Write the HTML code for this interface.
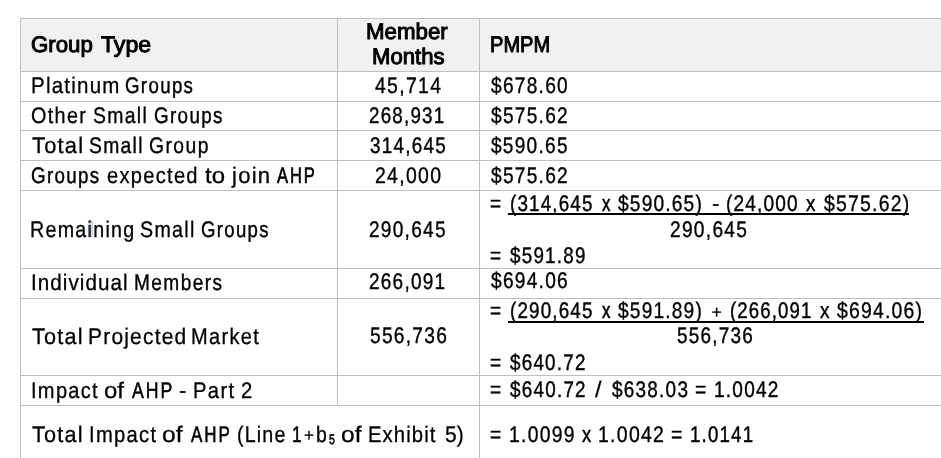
<!DOCTYPE html>
<html><head><meta charset="utf-8"><style>
html,body{margin:0;padding:0;background:#fff;width:941px;height:458px;overflow:hidden;position:relative}
.t{position:absolute;font-family:"Liberation Sans", sans-serif;font-size:22.5px;line-height:1;white-space:pre;color:#000;transform-origin:0 0;text-rendering:geometricPrecision;-webkit-text-stroke:0.3px #000}
.hl{position:absolute;left:20px;right:0;height:1px;background:#bfbfbf}
.vl{position:absolute;width:1px;background:#bfbfbf}
.ul{position:absolute;height:2px;background:#000}
.g{position:absolute;left:0;top:0;width:941px;height:458px;filter:grayscale(1)}
.hd{position:absolute;left:20px;top:18px;right:0;height:53px;background:#f1f1f1}
</style></head><body>
<div class='hd'></div>
<div style='position:absolute;left:88px;top:219.5px;width:4.5px;height:17.5px;background:#cdd9e8'></div>
<div class='g'>
<div class='hl' style='top:18px'></div>
<div class='hl' style='top:71px'></div>
<div class='hl' style='top:101px'></div>
<div class='hl' style='top:130px'></div>
<div class='hl' style='top:160px'></div>
<div class='hl' style='top:190px'></div>
<div class='hl' style='top:268px'></div>
<div class='hl' style='top:298px'></div>
<div class='hl' style='top:375px'></div>
<div class='hl' style='top:405px'></div>
<div class='vl' style='left:20px;top:18px;height:440px'></div>
<div class='vl' style='left:337px;top:18px;height:387px'></div>
<div class='vl' style='left:479px;top:18px;height:440px'></div>
<div class='ul' style='left:508.2px;top:213px;width:400.7px'></div>
<div class='ul' style='left:508.2px;top:321px;width:415.7px'></div>
<div class='t' style='left:31.21px;top:34.00px;-webkit-text-stroke:1.0px #000;transform:scaleX(0.9895)'>Group</div>
<div class='t' style='left:100.80px;top:34.00px;-webkit-text-stroke:1.0px #000;transform:scaleX(1.0280)'>Type</div>
<div class='t' style='left:366.06px;top:21.00px;-webkit-text-stroke:1.0px #000;transform:scaleX(0.9902)'>Member</div>
<div class='t' style='left:371.57px;top:46.00px;-webkit-text-stroke:1.0px #000;transform:scaleX(0.9827)'>Months</div>
<div class='t' style='left:489.88px;top:34.00px;-webkit-text-stroke:1.0px #000;transform:scaleX(0.8923)'>PMPM</div>
<div class='t' style='left:374.98px;top:75.00px;-webkit-text-stroke:0.346px #000;letter-spacing:1.517px;transform:scaleX(0.8637)'>45,714</div>
<div class='t' style='left:491.00px;top:75.00px;-webkit-text-stroke:0.384px #000;letter-spacing:1.495px;transform:scaleX(0.8493)'>$678.60</div>
<div class='t' style='left:369.47px;top:105.00px;-webkit-text-stroke:0.419px #000;letter-spacing:1.477px;transform:scaleX(0.8340)'>268,931</div>
<div class='t' style='left:491.00px;top:105.00px;-webkit-text-stroke:0.383px #000;letter-spacing:1.491px;transform:scaleX(0.8497)'>$575.62</div>
<div class='t' style='left:370.28px;top:135.00px;-webkit-text-stroke:0.401px #000;letter-spacing:1.486px;transform:scaleX(0.8378)'>314,645</div>
<div class='t' style='left:491.00px;top:135.00px;-webkit-text-stroke:0.383px #000;letter-spacing:1.495px;transform:scaleX(0.8471)'>$590.65</div>
<div class='t' style='left:374.95px;top:165.00px;-webkit-text-stroke:0.337px #000;letter-spacing:1.500px;transform:scaleX(0.8640)'>24,000</div>
<div class='t' style='left:491.00px;top:165.00px;-webkit-text-stroke:0.383px #000;letter-spacing:1.491px;transform:scaleX(0.8497)'>$575.62</div>
<div class='t' style='left:369.36px;top:219.00px;-webkit-text-stroke:0.373px #000;letter-spacing:1.481px;transform:scaleX(0.8482)'>290,645</div>
<div class='t' style='left:669.56px;top:219.00px;-webkit-text-stroke:0.361px #000;letter-spacing:1.481px;transform:scaleX(0.8527)'>290,645</div>
<div class='t' style='left:369.37px;top:271.00px;-webkit-text-stroke:0.394px #000;letter-spacing:1.477px;transform:scaleX(0.8430)'>266,091</div>
<div class='t' style='left:491.00px;top:270.00px;-webkit-text-stroke:0.383px #000;letter-spacing:1.491px;transform:scaleX(0.8497)'>$694.06</div>
<div class='t' style='left:369.56px;top:325.00px;-webkit-text-stroke:0.377px #000;letter-spacing:1.477px;transform:scaleX(0.8520)'>556,736</div>
<div class='t' style='left:677.17px;top:325.00px;-webkit-text-stroke:0.409px #000;letter-spacing:1.477px;transform:scaleX(0.8402)'>556,736</div>
<div class='t' style='left:30.63px;top:75.00px;letter-spacing:1.345px;transform:scaleX(0.9122)'>Platinum</div>
<div class='t' style='left:125.28px;top:75.00px;-webkit-text-stroke:0.428px #000;letter-spacing:1.611px;transform:scaleX(0.8305)'>Groups</div>
<div class='t' style='left:31.14px;top:105.00px;-webkit-text-stroke:0.307px #000;letter-spacing:1.542px;transform:scaleX(0.8789)'>Other</div>
<div class='t' style='left:93.25px;top:105.00px;-webkit-text-stroke:0.349px #000;letter-spacing:1.507px;transform:scaleX(0.8627)'>Small</div>
<div class='t' style='left:153.97px;top:105.00px;-webkit-text-stroke:0.411px #000;letter-spacing:1.611px;transform:scaleX(0.8367)'>Groups</div>
<div class='t' style='left:31.56px;top:135.00px;letter-spacing:1.278px;transform:scaleX(0.9704)'>Total</div>
<div class='t' style='left:89.06px;top:135.00px;-webkit-text-stroke:0.362px #000;letter-spacing:1.507px;transform:scaleX(0.8577)'>Small</div>
<div class='t' style='left:148.96px;top:135.00px;-webkit-text-stroke:0.35px #000;letter-spacing:1.694px;transform:scaleX(0.8587)'>Group</div>
<div class='t' style='left:31.18px;top:165.00px;-webkit-text-stroke:0.421px #000;letter-spacing:1.611px;transform:scaleX(0.8330)'>Groups</div>
<div class='t' style='left:106.53px;top:165.00px;letter-spacing:1.417px;transform:scaleX(0.8945)'>expected</div>
<div class='t' style='left:205.00px;top:165.00px;transform:scaleX(1.0667)'>to</div>
<div class='t' style='left:231.64px;top:165.00px;letter-spacing:1.278px;transform:scaleX(0.9809)'>join</div>
<div class='t' style='left:277.17px;top:165.00px;-webkit-text-stroke:0.708px #000;letter-spacing:2.556px;transform:scaleX(0.7357)'>AHP</div>
<div class='t' style='left:30.49px;top:219.00px;-webkit-text-stroke:0.318px #000;letter-spacing:1.455px;transform:scaleX(0.8747)'>Remaining</div>
<div class='t' style='left:140.15px;top:219.00px;-webkit-text-stroke:0.323px #000;letter-spacing:1.507px;transform:scaleX(0.8726)'>Small</div>
<div class='t' style='left:200.68px;top:219.00px;-webkit-text-stroke:0.442px #000;letter-spacing:1.611px;transform:scaleX(0.8255)'>Groups</div>
<div class='t' style='left:30.99px;top:272.00px;letter-spacing:1.136px;transform:scaleX(0.9176)'>Individual</div>
<div class='t' style='left:133.63px;top:272.00px;-webkit-text-stroke:0.389px #000;letter-spacing:1.699px;transform:scaleX(0.8475)'>Members</div>
<div class='t' style='left:32.36px;top:326.00px;letter-spacing:1.278px;transform:scaleX(0.9626)'>Total</div>
<div class='t' style='left:88.40px;top:326.00px;letter-spacing:1.281px;transform:scaleX(0.9327)'>Projected</div>
<div class='t' style='left:191.47px;top:326.00px;letter-spacing:1.494px;transform:scaleX(0.8900)'>Market</div>
<div class='t' style='left:31.04px;top:380.00px;letter-spacing:1.461px;transform:scaleX(0.8911)'>Impact</div>
<div class='t' style='left:103.60px;top:380.00px;transform:scaleX(1.0630)'>of</div>
<div class='t' style='left:131.90px;top:380.00px;-webkit-text-stroke:0.558px #000;letter-spacing:2.542px;transform:scaleX(0.7849)'>AHP</div>
<div class='t' style='left:179.36px;top:380.00px;transform:scaleX(0.9833)'>-</div>
<div class='t' style='left:192.55px;top:380.00px;letter-spacing:1.472px;transform:scaleX(0.8989)'>Part</div>
<div class='t' style='left:241.40px;top:380.00px;transform:scaleX(0.9023)'>2</div>
<div class='t' style='left:31.96px;top:424.00px;letter-spacing:1.278px;transform:scaleX(0.9626)'>Total</div>
<div class='t' style='left:88.83px;top:424.00px;letter-spacing:1.461px;transform:scaleX(0.8966)'>Impact</div>
<div class='t' style='left:162.08px;top:424.00px;transform:scaleX(1.0904)'>of</div>
<div class='t' style='left:190.68px;top:424.00px;-webkit-text-stroke:0.647px #000;letter-spacing:2.556px;transform:scaleX(0.7533)'>AHP</div>
<div class='t' style='left:237.11px;top:424.00px;-webkit-text-stroke:0.32px #000;letter-spacing:1.333px;transform:scaleX(0.8738)'>(Line</div>
<div class='t' style='left:292.44px;top:424.00px;-webkit-text-stroke:0.555px #000;transform:scaleX(0.7714)'>1</div>
<div class='t' style='left:304.41px;top:426.51px;font-size:17.5px;transform:scaleX(0.9778)'>+</div>
<div class='t' style='left:315.72px;top:424.00px;-webkit-text-stroke:0.338px #000;transform:scaleX(0.8667)'>b</div>
<div class='t' style='left:341.38px;top:424.00px;transform:scaleX(1.0904)'>of</div>
<div class='t' style='left:368.45px;top:424.00px;letter-spacing:1.227px;transform:scaleX(0.9007)'>Exhibit</div>
<div class='t' style='left:444.60px;top:424.00px;transform:scaleX(0.9333)'>5)</div>
<div class='t' style='left:329.41px;top:431.64px;-webkit-text-stroke:0.569px #000;font-size:14px;transform:scaleX(0.7586)'>5</div>
<div class='t' style='left:490.07px;top:193.00px;-webkit-text-stroke:0.4px #000;transform:scaleX(0.8435)'>=</div>
<div class='t' style='left:510.16px;top:193.00px;-webkit-text-stroke:0.406px #000;letter-spacing:1.385px;transform:scaleX(0.8366)'>(314,645</div>
<div class='t' style='left:602.29px;top:193.00px;-webkit-text-stroke:0.58px #000;transform:scaleX(0.7489)'>x</div>
<div class='t' style='left:618.40px;top:193.00px;-webkit-text-stroke:0.382px #000;letter-spacing:1.393px;transform:scaleX(0.8503)'>$590.65)</div>
<div class='t' style='left:711.56px;top:193.00px;transform:scaleX(0.9833)'>-</div>
<div class='t' style='left:726.15px;top:193.00px;-webkit-text-stroke:0.381px #000;letter-spacing:1.384px;transform:scaleX(0.8476)'>(24,000</div>
<div class='t' style='left:806.10px;top:193.00px;-webkit-text-stroke:0.447px #000;transform:scaleX(0.8267)'>x</div>
<div class='t' style='left:823.60px;top:193.00px;-webkit-text-stroke:0.346px #000;letter-spacing:1.393px;transform:scaleX(0.8636)'>$575.62)</div>
<div class='t' style='left:490.07px;top:300.00px;-webkit-text-stroke:0.4px #000;transform:scaleX(0.8435)'>=</div>
<div class='t' style='left:510.16px;top:300.00px;-webkit-text-stroke:0.406px #000;letter-spacing:1.385px;transform:scaleX(0.8366)'>(290,645</div>
<div class='t' style='left:602.29px;top:300.00px;-webkit-text-stroke:0.58px #000;transform:scaleX(0.7489)'>x</div>
<div class='t' style='left:618.40px;top:300.00px;-webkit-text-stroke:0.382px #000;letter-spacing:1.393px;transform:scaleX(0.8503)'>$591.89)</div>
<div class='t' style='left:711.50px;top:304.21px;font-size:17.5px;transform:scaleX(1.0000)'>+</div>
<div class='t' style='left:730.37px;top:300.00px;-webkit-text-stroke:0.44px #000;letter-spacing:1.381px;transform:scaleX(0.8266)'>(266,091</div>
<div class='t' style='left:820.40px;top:300.00px;-webkit-text-stroke:0.397px #000;transform:scaleX(0.8444)'>x</div>
<div class='t' style='left:837.40px;top:300.00px;-webkit-text-stroke:0.349px #000;letter-spacing:1.393px;transform:scaleX(0.8626)'>$694.06)</div>
<div class='t' style='left:490.07px;top:245.00px;-webkit-text-stroke:0.4px #000;transform:scaleX(0.8435)'>=</div>
<div class='t' style='left:509.80px;top:245.00px;-webkit-text-stroke:0.423px #000;letter-spacing:1.491px;transform:scaleX(0.8352)'>$591.89</div>
<div class='t' style='left:490.07px;top:352.00px;-webkit-text-stroke:0.4px #000;transform:scaleX(0.8435)'>=</div>
<div class='t' style='left:509.80px;top:352.00px;-webkit-text-stroke:0.423px #000;letter-spacing:1.491px;transform:scaleX(0.8352)'>$640.72</div>
<div class='t' style='left:490.07px;top:379.00px;-webkit-text-stroke:0.4px #000;transform:scaleX(0.8435)'>=</div>
<div class='t' style='left:509.80px;top:379.00px;-webkit-text-stroke:0.417px #000;letter-spacing:1.491px;transform:scaleX(0.8374)'>$640.72</div>
<div class='t' style='left:594.96px;top:379.00px;transform:scaleX(1.0519)'>/</div>
<div class='t' style='left:612.00px;top:379.00px;-webkit-text-stroke:0.407px #000;letter-spacing:1.491px;transform:scaleX(0.8407)'>$638.03</div>
<div class='t' style='left:694.75px;top:379.00px;-webkit-text-stroke:0.331px #000;transform:scaleX(0.8696)'>=</div>
<div class='t' style='left:713.63px;top:379.00px;-webkit-text-stroke:0.397px #000;letter-spacing:1.478px;transform:scaleX(0.8445)'>1.0042</div>
<div class='t' style='left:490.07px;top:424.00px;-webkit-text-stroke:0.4px #000;transform:scaleX(0.8435)'>=</div>
<div class='t' style='left:508.51px;top:424.00px;-webkit-text-stroke:0.354px #000;letter-spacing:1.478px;transform:scaleX(0.8608)'>1.0099</div>
<div class='t' style='left:582.20px;top:424.00px;-webkit-text-stroke:0.472px #000;transform:scaleX(0.8178)'>x</div>
<div class='t' style='left:598.30px;top:424.00px;-webkit-text-stroke:0.343px #000;letter-spacing:1.478px;transform:scaleX(0.8648)'>1.0042</div>
<div class='t' style='left:670.95px;top:424.00px;-webkit-text-stroke:0.331px #000;transform:scaleX(0.8696)'>=</div>
<div class='t' style='left:689.96px;top:424.00px;-webkit-text-stroke:0.446px #000;letter-spacing:1.478px;transform:scaleX(0.8269)'>1.0141</div>
</div>
<div style='position:absolute;left:88px;top:219.5px;width:4.5px;height:17.5px;background:#1c2a48;mix-blend-mode:lighten'></div>
</body></html>
